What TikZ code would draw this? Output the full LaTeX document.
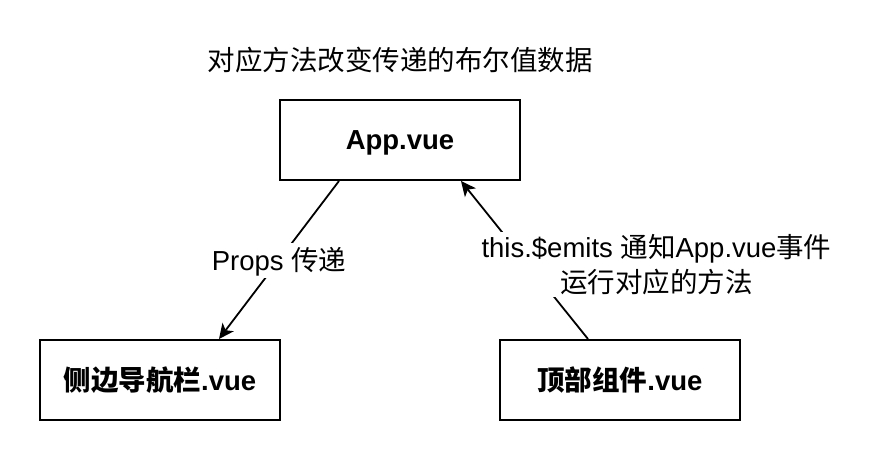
\documentclass[tikz,border=0pt]{standalone}
\usepackage{fontspec}
\setmainfont{Liberation Sans}
\newfontfamily\cjk{Noto Sans CJK SC}
\newcommand\zh[1]{{\cjk #1}}
\usetikzlibrary{arrows.meta}
\begin{document}
\begin{tikzpicture}[x=1pt,y=-1pt,
  box/.style={draw, line width=2pt, minimum width=240pt, minimum height=80pt,
    inner sep=0pt, text height=20pt, text depth=0pt,
    font=\fontsize{27.5}{34}\selectfont\bfseries},
  arr/.style={line width=1.8pt, -{Stealth[length=15pt,width=14pt,inset=4pt]}},
  lbl/.style={fill=white, inner xsep=1pt, inner ysep=5pt, text height=22pt, text depth=3pt,
    font=\fontsize{27.5}{34}\selectfont},
  lbltwo/.style={fill=white, inner xsep=1pt, inner ysep=2pt, align=center,
    font=\fontsize{27.5}{34.5}\selectfont},
  ttl/.style={inner sep=0pt, font=\fontsize{27.5}{34}\selectfont}]
\useasboundingbox (0,0) rectangle (880,462);
\node[ttl, anchor=base] (title) at (400,71) {\zh{对应方法改变传递的布尔值数据}};
\node[box] (app) at (400,140) {App.vue};
\node[box] (side) at (160,380) {\zh{侧边导航栏}.vue};
\node[box] (top) at (620,380) {\zh{顶部组件}.vue};
\draw[arr] ([xshift=60pt]app.south west) -- node[lbl, pos=0.5, anchor=base, yshift=-10pt] (props) {Props \zh{传递}} ([xshift=180pt]side.north west);
\draw[arr] ([xshift=89pt]top.north west) -- node[lbltwo, pos=0.5, xshift=132pt, yshift=-4.5pt] (emits) {this.\$emits \zh{通知}App.vue\zh{事件}\\\zh{运行对应的方法}} ([xshift=182pt]app.south west);
\end{tikzpicture}
\end{document}
